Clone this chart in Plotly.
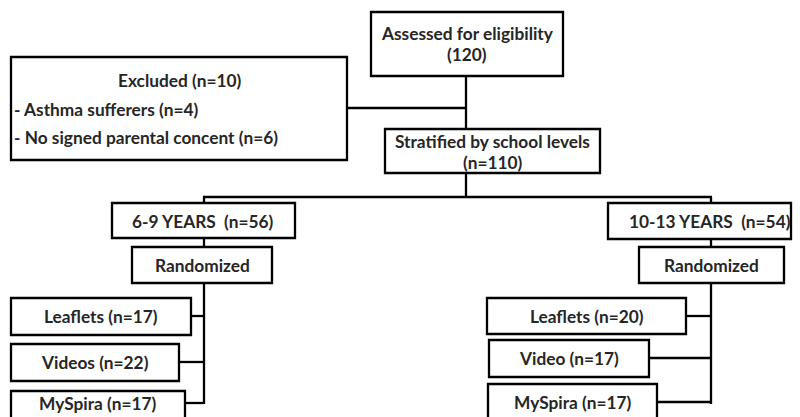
import plotly.graph_objects as go

# ---- data (flow counts) ----
assessed_label = "Assessed for eligibility"
assessed_n = 120
excluded_n = 10
exclusion_reasons = ["Asthma sufferers", "No signed parental concent"]
exclusion_n = [4, 6]
stratified_label = "Stratified by school levels"
stratified_n = 110
group_labels = ["6-9 YEARS", "10-13 YEARS"]
group_n = [56, 54]
arm_labels_young = ["Leaflets", "Videos", "MySpira"]
arm_n_young = [17, 22, 17]
arm_labels_old = ["Leaflets", "Video", "MySpira"]
arm_n_old = [20, 17, 17]

# ---- layout geometry (pixels, y downward) ----
W, H = 800, 417
box_assessed = (371, 12, 563, 76)
box_excluded = (11, 57, 347, 160)
box_strat = (385, 129, 600, 173)
box_groups = [(112, 203, 295, 238), (608, 203, 791, 239)]
box_rand = [(132, 247, 272, 283), (639, 247, 784, 283)]
box_arms = [
    [(11, 298, 191, 335), (11, 344, 179, 381), (11, 391, 185, 430)],
    [(487, 298, 686, 334), (489, 340, 649, 377), (488, 384, 657, 430)],
]
arm_text_y = [[316, 362, 403], [316, 358, 402]]
group_text_x = [203, 710]
rand_text_x = [202, 711]
spine_main = 466
spines = [204, 711]
branch_y = 197
lw = 2.3
ink = "#000000"
txt = "#262626"
FONT = "Lato"
FS = 17.3

shapes = []
annotations = []


def line(x0, y0, x1, y1, w=lw):
    shapes.append(dict(type="line", xref="x", yref="y", x0=x0, y0=y0, x1=x1, y1=y1,
                       line=dict(color=ink, width=w)))


def box(b):
    shapes.append(dict(type="rect", xref="x", yref="y", x0=b[0], y0=b[1], x1=b[2], y1=b[3],
                       line=dict(color=ink, width=lw), fillcolor="white"))


def text(x, y, s, anchor="center", size=FS):
    annotations.append(dict(x=x, y=y, xref="x", yref="y", text="<b>" + s + "</b>",
                            showarrow=False, xanchor=anchor, yanchor="middle",
                            font=dict(family=FONT, size=size, color=txt)))


# connectors (drawn first, boxes cover them)
line(spine_main, box_assessed[3], spine_main, box_strat[1])
line(box_excluded[2], 108, spine_main, 108)
line(spine_main, box_strat[3], spine_main, branch_y)
line(spines[0] - 1, branch_y, spines[1] + 1, branch_y)
for s, arms, ys in zip(spines, box_arms, arm_text_y):
    line(s, branch_y, s, 404)
    for b, y in zip(arms, ys):
        line(b[2], y, s, y)

# boxes
for b in [box_assessed, box_excluded, box_strat] + box_groups + box_rand:
    box(b)
for arms in box_arms:
    for b in arms:
        box(b)

# texts
cx = lambda b: (b[0] + b[2]) / 2
text(cx(box_assessed), 33, assessed_label)
text(cx(box_assessed), 54, f"({assessed_n})")
text(cx(box_excluded), 80, f"Excluded (n={excluded_n})")
for y, lab, n in zip([109, 137], exclusion_reasons, exclusion_n):
    text(12, y, f"- {lab} (n={n})", anchor="left")
text(cx(box_strat), 141, stratified_label)
text(cx(box_strat), 162, f"(n={stratified_n})")
for gx, lab, n in zip(group_text_x, group_labels, group_n):
    text(gx, 221, f"{lab}  (n={n})")
for rx in rand_text_x:
    text(rx, 265, "Randomized")
for arms, labs, ns, ys in zip(box_arms, [arm_labels_young, arm_labels_old],
                              [arm_n_young, arm_n_old], arm_text_y):
    for b, lab, n, y in zip(arms, labs, ns, ys):
        text(cx(b), y, f"{lab} (n={n})")

fig = go.Figure()
fig.update_layout(
    width=W, height=H, margin=dict(l=0, r=0, t=0, b=0),
    paper_bgcolor="white", plot_bgcolor="white",
    xaxis=dict(range=[0, W], visible=False, fixedrange=True),
    yaxis=dict(range=[H, 0], visible=False, fixedrange=True),
    shapes=shapes, annotations=annotations, showlegend=False,
)
fig.write_html("out.html", config={"displayModeBar": False},
               post_script="document.body.style.margin='0';document.body.style.overflow='hidden';")
